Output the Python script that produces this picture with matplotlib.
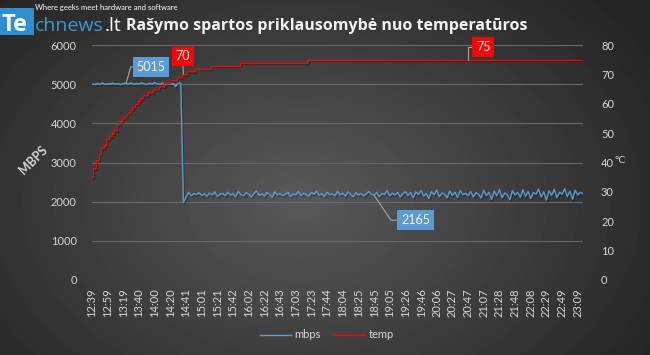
import matplotlib
matplotlib.use('Agg')
import matplotlib.pyplot as plt
import numpy as np
from matplotlib import patheffects as pe
from matplotlib.lines import Line2D

plt.rcParams['font.family'] = ['Lato', 'DejaVu Sans']

# x axis categories (one label every 6 samples)
time_labels = ['12:39', '12:59', '13:19', '13:40', '14:00', '14:20', '14:41', '15:01',
               '15:21', '15:42', '16:02', '16:22', '16:43', '17:03', '17:23', '17:44',
               '18:04', '18:25', '18:45', '19:05', '19:26', '19:46', '20:06', '20:27',
               '20:47', '21:07', '21:28', '21:48', '22:08', '22:29', '22:49', '23:09']

# write speed, MBPS
mbps = [5010, 4990, 5020, 5000, 5030, 4995, 5010, 5005, 5025, 5000,
        5015, 4990, 5020, 5015, 5005, 5030, 4995, 5020, 5000, 5035,
        5010, 4990, 5025, 5005, 5040, 5010, 5000, 5030, 4980, 5020,
        4990, 5030, 4940, 5040, 5020,
        1980, 2120, 2240, 2150, 2210, 2180, 2230, 2160, 2200, 2140,
        2220, 2170, 2250, 2130, 2190, 2210, 2150, 2240, 2170, 2200,
        2130, 2260, 2180, 2150, 2230, 2190, 2120, 2210, 2270, 2160,
        2200, 2140, 2230, 2180, 2110, 2250, 2170, 2210, 2150, 2190,
        2240, 2130, 2200, 2170, 2260, 2150, 2220, 2180, 2140, 2230,
        2190, 2270, 2160, 2210, 2130, 2240, 2180, 2200, 2150, 2260,
        2170, 2220, 2140, 2250, 2190, 2120, 2230, 2170, 2210, 2150,
        2200, 2260, 2190, 2165, 2240, 2130, 2210, 2180, 2280, 2150,
        2220, 2170, 2240, 2120, 2200, 2260, 2160, 2230, 2100, 2250,
        2180, 2290, 2140, 2210, 2080, 2260, 2170, 2300, 2130, 2220,
        2190, 2100, 2270, 2160, 2240, 2110, 2280, 2180, 2210, 2150,
        2260, 2120, 2230, 2190, 2090, 2290, 2160, 2240, 2060, 2270,
        2150, 2310, 2100, 2220, 2180, 2050, 2280, 2170, 2240, 2110,
        2300, 2140, 2260, 2080, 2230, 2190, 2320, 2120, 2250, 2040,
        2280, 2160, 2310, 2100, 2240, 2190, 2330, 2130, 2270, 2060,
        2290, 2170, 2240, 2200]

# drive temperature, °C
temp = [35, 38, 41, 43, 45, 46, 48, 49, 50, 51,
        53, 54, 55, 56, 57, 58, 59, 60, 61, 62,
        63, 63, 64, 64, 65, 65, 66, 66, 67, 67,
        68, 68, 68, 69, 69, 70, 70, 71, 71, 71,
        72, 72, 72, 72, 72, 72, 73, 73, 73, 73,
        73, 73, 73, 73, 73, 73, 73, 74, 74, 74,
        74, 74, 74, 74, 74, 74, 74, 74, 74, 74,
        74, 74, 74, 74, 74, 74, 74, 74, 74, 74,
        74, 74, 74] + [75] * 106

# callouts: sample indices
mbps_notes = [13, 108]
temp_notes = [35, 144]

BLUE = '#5b9bd5'
RED = '#ff0000'
TXT = '#d9d9d9'

fig = plt.figure(figsize=(6.5, 3.55), dpi=100)

# dark radial background
bg = fig.add_axes([0, 0, 1, 1], zorder=-10)
yy, xx = np.mgrid[0:355, 0:650]
r = np.sqrt(((xx - 300) / 420.0) ** 2 + ((yy - 200) / 300.0) ** 2)
shade = 0.35 - 0.21 * np.clip(r, 0, 1)
bg.imshow(shade, cmap='gray', vmin=0, vmax=1, aspect='auto')
bg.axis('off')

ax = fig.add_axes([92 / 650, 1 - 280 / 355, (583 - 92) / 650, 235 / 355])
ax.patch.set_alpha(0)
x = np.arange(len(mbps))
shadow = [pe.SimpleLineShadow(offset=(0.8, -1.2), alpha=0.25, shadow_color='black'), pe.Normal()]
ax.plot(x, mbps, color=BLUE, lw=1.0, path_effects=shadow)
ax.set_xlim(0, len(mbps) - 1)
ax.set_ylim(0, 6000)
ax.set_yticks(range(0, 6001, 1000))
ax.set_xticks(range(0, len(time_labels) * 6, 6))
ax.set_xticklabels(time_labels, rotation=90)
ax.grid(axis='y', color='#6a6a6a', lw=0.8)
ax.set_axisbelow(True)
for s in ax.spines.values():
    s.set_visible(False)
ax.tick_params(length=0, colors=TXT, labelsize=8)
ax.tick_params(axis='y', pad=11)
ax.tick_params(axis='x', pad=6)

ax2 = ax.twinx()
ax2.plot(x, temp, color=RED, lw=0.9, path_effects=shadow, drawstyle='steps-mid')
ax2.set_ylim(0, 80)
ax2.set_yticks(range(0, 81, 10))
for s in ax2.spines.values():
    s.set_visible(False)
ax2.tick_params(length=0, colors=TXT, labelsize=8, pad=13)

# callouts
lead = dict(arrowstyle='-', color='#a6a6a6', lw=0.8, shrinkA=0, shrinkB=0)
box_txt = dict(ha='center', va='center', color='#f2f2f2', fontsize=9, textcoords='offset points')
i = mbps_notes[0]
ax.annotate(str(mbps[i]), (i, mbps[i]), xytext=(18, 12),
            bbox=dict(boxstyle='square,pad=0.3', fc=BLUE, ec='none'),
            arrowprops=dict(lead, relpos=(0, 0.5), connectionstyle='angle,angleA=180,angleB=74,rad=0'),
            **box_txt)
i = mbps_notes[1]
ax.annotate(str(mbps[i]), (i, mbps[i]), xytext=(30, -18),
            bbox=dict(boxstyle='square,pad=0.3', fc=BLUE, ec='none'),
            arrowprops=dict(lead, relpos=(0, 0.5), connectionstyle='angle,angleA=180,angleB=-56,rad=0'),
            **box_txt)
i = temp_notes[0]
ax2.annotate(str(temp[i]), (i, temp[i]), xytext=(-0.5, 13),
             bbox=dict(boxstyle='square,pad=0.3', fc=RED, ec='none'),
             arrowprops=dict(lead, relpos=(0.5, 0)), **box_txt)
i = temp_notes[1]
ax2.annotate(str(temp[i]), (i, temp[i]), xytext=(11, 9),
             bbox=dict(boxstyle='square,pad=0.3', fc=RED, ec='none'),
             arrowprops=dict(lead, relpos=(0, 0.5), connectionstyle='angle,angleA=180,angleB=90,rad=0'),
             **box_txt)

# axis titles
fig.text(33 / 650, 1 - 160 / 355, 'MBPS', rotation=45, ha='center', va='center',
         color=TXT, fontsize=9, fontweight='bold')
fig.text(620 / 650, 1 - 160 / 355, '°C', ha='center', va='center', color=TXT, fontsize=7.5)

# title
fig.text(327 / 650, 1 - 26 / 355, 'Rašymo spartos priklausomybė nuo temperatūros',
         ha='center', va='center', color='#f2f2f2', fontsize=11.5, fontweight='bold',
         family=['Open Sans', 'DejaVu Sans'])

# logo
fig.patches.append(plt.Rectangle((0, 1 - 35 / 355), 34 / 650, 27 / 355,
                                 transform=fig.transFigure, fc='#2f8fce', ec='none'))
fig.text(1 / 650, 1 - 31 / 355, 'Te', color='white', fontsize=17, fontweight='bold',
         va='baseline', family=['Open Sans', 'DejaVu Sans'])
t1 = fig.text(35 / 650, 1 - 31 / 355, 'chnews', color='#3a9ad9', fontsize=14,
              va='baseline', family=['Open Sans', 'DejaVu Sans'])
fig.canvas.draw()
ext = t1.get_window_extent()
fig.text(ext.x1 / 650 + 1 / 650, 1 - 31 / 355, '.lt', color='white', fontsize=14,
         va='baseline', family=['Open Sans', 'DejaVu Sans'])
fig.text(35 / 650, 1 - 10 / 355, 'Where geeks meet hardware and software', color='white',
         fontsize=5.5, va='baseline')

# legend
handles = [Line2D([], [], color=BLUE, lw=1), Line2D([], [], color=RED, lw=1)]
fig.legend(handles, ['mbps', 'temp'], loc='center', bbox_to_anchor=(327 / 650, 1 - 335 / 355),
           ncol=2, frameon=False, fontsize=8, labelcolor=TXT, handlelength=2.8,
           columnspacing=1.2, handletextpad=0.3)

fig.savefig('out.png', dpi=100)
